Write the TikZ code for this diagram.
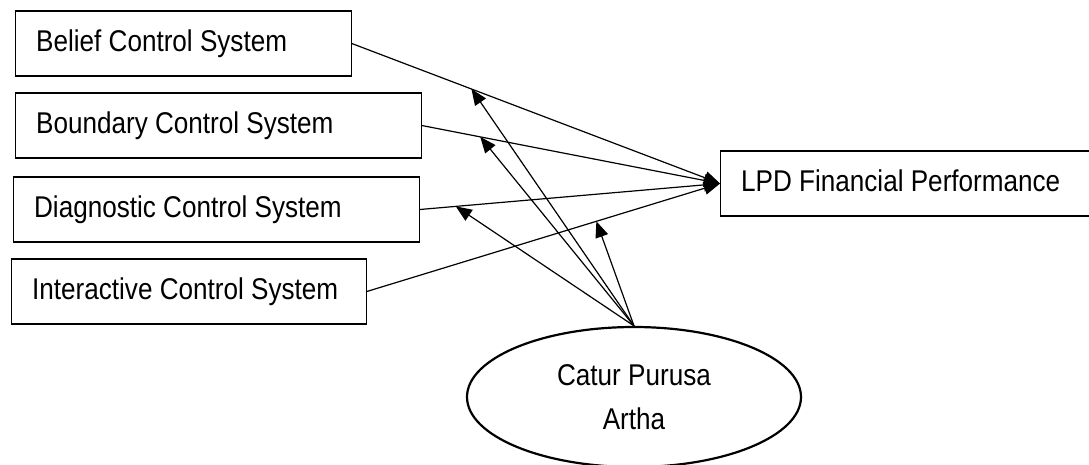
\documentclass[tikz,border=0pt]{standalone}
\usepackage{fontspec}
\setmainfont[FakeStretch=0.87]{Liberation Sans}
\usetikzlibrary{arrows.meta,shapes.geometric}
\begin{document}
\begin{tikzpicture}[x=1pt,y=-1pt,
  box/.style={draw, line width=1.3pt, rectangle, minimum height=65pt,
    inner xsep=20.5pt, inner ysep=0pt, anchor=west, align=left,
    font=\fontsize{30}{36}\selectfont, text height=20pt, text depth=5pt,
    execute at begin node={\spaceskip=0pt\xspaceskip=0pt}},
  oval/.style={draw, ellipse, line width=2.2pt, minimum width=334pt,
    minimum height=140pt, inner sep=0pt, align=center,
    font=\fontsize{30}{43.4}\selectfont},
  link/.style={line width=1.2pt, -{Triangle[length=16pt,width=13pt]}}]
\useasboundingbox (0,0) rectangle (1089,464);
\fill[white] (0,0) rectangle (1089,464);
\clip (0,0) rectangle (1089,464);

\node[box, text width=294.5pt] (belief) at (15,43.5) {Belief Control System};
\node[box, text width=364.5pt] (boundary) at (15,125.5) {Boundary Control System};
\node[box, text width=364.5pt] (diag) at (13,209.5) {Diagnostic Control System};
\node[box, text width=313.5pt] (inter) at (11,291.5) {Interactive Control System};
\node[box, text width=359pt] (lpd) at (720,183.5) {LPD Financial Performance};
\node[oval] (catur) at (634,397) {Catur Purusa\\Artha};

\draw[link] (belief.east) -- (lpd.west) coordinate[pos=0.325] (t1);
\draw[link] (boundary.east) -- (lpd.west) coordinate[pos=0.196] (t2);
\draw[link] (diag.east) -- (lpd.west) coordinate[pos=0.120] (t3);
\draw[link] (inter.east) -- (lpd.west) coordinate[pos=0.650] (t4);

\draw[link] (catur.north) -- (t1);
\draw[link] (catur.north) -- (t2);
\draw[link] (catur.north) -- (t3);
\draw[link] (catur.north) -- (t4);
\end{tikzpicture}
\end{document}
